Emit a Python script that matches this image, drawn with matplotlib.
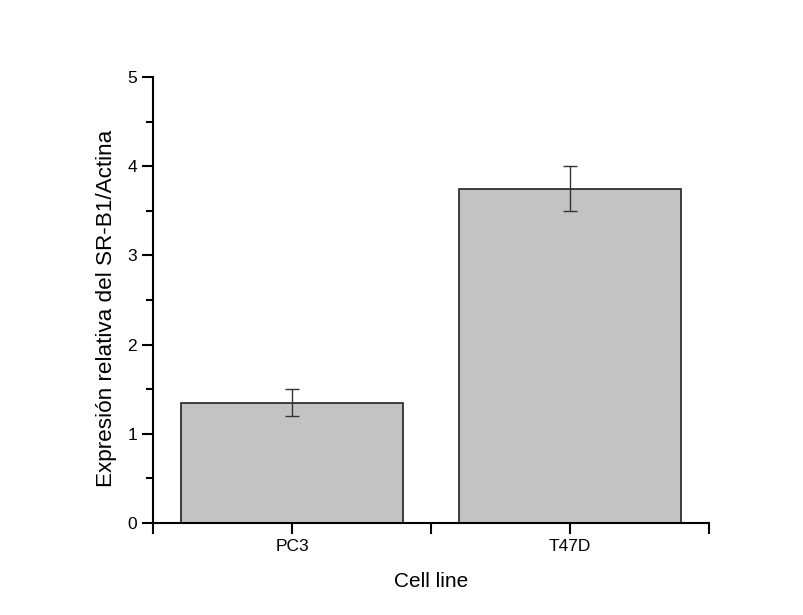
import matplotlib

matplotlib.use("Agg")
import matplotlib.pyplot as plt
from matplotlib.ticker import MultipleLocator

cell_lines = ["PC3", "T47D"]
expression = [1.35, 3.75]
errors = [0.15, 0.25]

plt.rcParams["font.family"] = ["Liberation Sans", "DejaVu Sans"]

fig = plt.figure(figsize=(8.04, 6.15), dpi=100)
ax = fig.add_axes([153 / 804, 92 / 615, 556 / 804, 446 / 615])

x = list(range(1, len(cell_lines) + 1))
ax.bar(x, expression, width=0.8, color="#c3c3c3", edgecolor="#222222", linewidth=1.2, zorder=2)
ax.errorbar(x, expression, yerr=errors, fmt="none", ecolor="#333333", elinewidth=1.0,
            capsize=5, capthick=1.0, zorder=3)

ax.set_xlim(0.5, 2.5)
ax.set_ylim(0, 5)
ax.set_xticks(x)
ax.set_xticklabels(cell_lines)
ax.set_xticks([0.5, 1.5, 2.5], minor=True)
ax.yaxis.set_major_locator(MultipleLocator(1))
ax.yaxis.set_minor_locator(MultipleLocator(0.5))

for side in ("top", "right"):
    ax.spines[side].set_visible(False)
for side in ("left", "bottom"):
    ax.spines[side].set_linewidth(1.5)
    ax.spines[side].set_color("black")

ax.tick_params(axis="both", which="major", length=8, width=1.5, labelsize=12.5, direction="out")
ax.tick_params(axis="x", which="minor", length=8, width=1.5)
ax.tick_params(axis="y", which="minor", length=5, width=1.5)

ax.set_xlabel("Cell line", fontsize=15, labelpad=13)
ax.set_ylabel("Expresión relativa del SR-B1/Actina", fontsize=16.2)
ax.yaxis.set_label_coords(-0.065, 0.482)

fig.savefig("out.png", dpi=100)
plt.close(fig)
